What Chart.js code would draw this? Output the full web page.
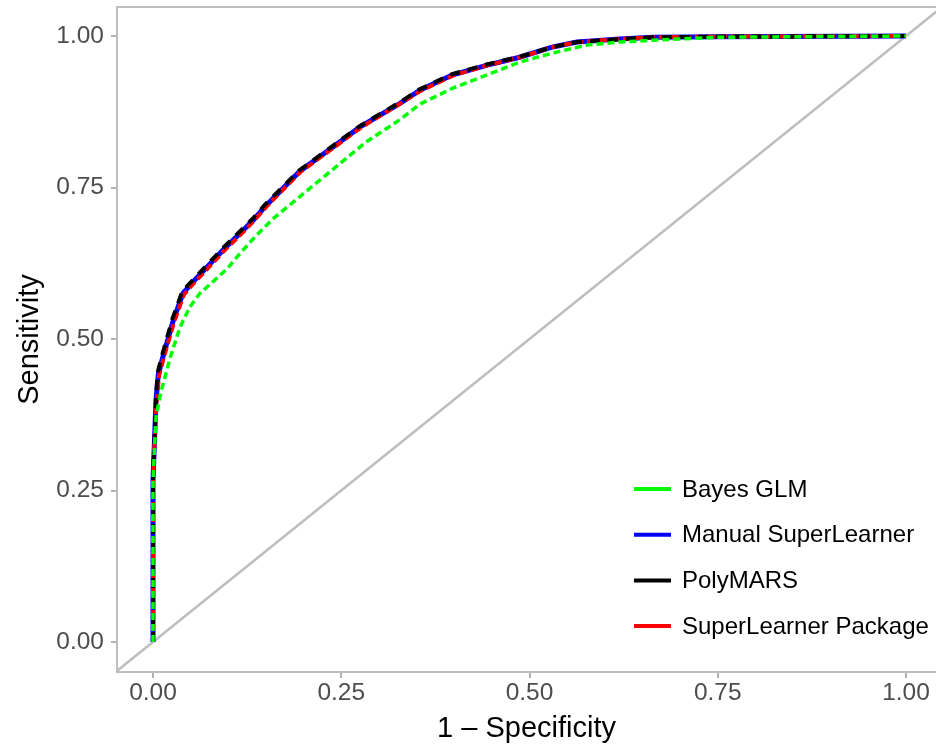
<!DOCTYPE html>
<html>
<head>
<meta charset="utf-8">
<script src="https://cdn.jsdelivr.net/npm/chart.js@4.4.1/dist/chart.umd.min.js"></script>
<style>
  html, body { margin: 0; padding: 0; background: #ffffff; }
  canvas { display: block; }
</style>
</head>
<body>
<canvas id="rocChart" width="936" height="750"></canvas>
<script>
const TICKS = [0, 0.25, 0.5, 0.75, 1];

const MANUAL_FPR = [0, 0, 0.003, 0.004, 0.007, 0.013, 0.027, 0.04, 0.053, 0.072, 0.093, 0.116, 0.133, 0.15, 0.195, 0.239, 0.275, 0.328, 0.355, 0.398, 0.444, 0.487, 0.531, 0.563, 0.62, 0.664, 0.75, 1];
const MANUAL_TPR = [0, 0.267, 0.366, 0.399, 0.441, 0.47, 0.531, 0.576, 0.594, 0.619, 0.647, 0.675, 0.696, 0.72, 0.777, 0.817, 0.85, 0.889, 0.911, 0.936, 0.952, 0.965, 0.982, 0.99, 0.995, 0.998, 0.999, 1];

const PACKAGE_FPR = [0, 0, 0.003, 0.005, 0.008, 0.014, 0.028, 0.041, 0.054, 0.073, 0.094, 0.117, 0.134, 0.151, 0.196, 0.24, 0.276, 0.329, 0.356, 0.399, 0.445, 0.488, 0.531, 0.563, 0.62, 0.664, 0.75, 1];
const PACKAGE_TPR = [0, 0.26, 0.364, 0.397, 0.439, 0.468, 0.528, 0.573, 0.592, 0.617, 0.645, 0.673, 0.695, 0.719, 0.776, 0.816, 0.849, 0.889, 0.91, 0.935, 0.952, 0.965, 0.982, 0.99, 0.995, 0.998, 0.999, 1];

const POLYMARS_FPR = [0, 0, 0.003, 0.004, 0.006, 0.012, 0.026, 0.039, 0.052, 0.071, 0.092, 0.115, 0.132, 0.149, 0.194, 0.238, 0.274, 0.327, 0.354, 0.397, 0.443, 0.487, 0.531, 0.563, 0.62, 0.664, 0.75, 1];
const POLYMARS_TPR = [0, 0.27, 0.368, 0.401, 0.444, 0.473, 0.534, 0.579, 0.596, 0.621, 0.649, 0.677, 0.698, 0.722, 0.778, 0.818, 0.851, 0.89, 0.912, 0.937, 0.953, 0.966, 0.982, 0.99, 0.995, 0.998, 0.999, 1];

const BAYES_FPR = [0, 0, 0.004, 0.01, 0.023, 0.036, 0.049, 0.062, 0.08, 0.1, 0.116, 0.138, 0.159, 0.195, 0.239, 0.284, 0.328, 0.355, 0.398, 0.444, 0.487, 0.531, 0.576, 0.62, 0.664, 0.75, 1];
const BAYES_TPR = [0, 0.267, 0.371, 0.41, 0.47, 0.52, 0.553, 0.575, 0.595, 0.618, 0.642, 0.672, 0.698, 0.735, 0.78, 0.826, 0.862, 0.888, 0.914, 0.936, 0.957, 0.972, 0.985, 0.99, 0.993, 0.998, 1];

const DIAG = [-0.1, 1.1];

const LEGEND_LABELS = ["Bayes GLM", "Manual SuperLearner", "PolyMARS", "SuperLearner Package"];

const FONT = "'Liberation Sans', Arial, Helvetica, sans-serif";
const GRAY_LINE = "#bebebe";

function toPoints(xs, ys) {
  return xs.map((x, i) => ({ x, y: ys[i] }));
}

function curve(label, xs, ys, color, dash, width, order) {
  return {
    label,
    data: toPoints(xs, ys),
    borderColor: color,
    backgroundColor: color,
    borderWidth: width,
    borderDash: dash,
    borderCapStyle: "butt",
    pointRadius: 0,
    tension: 0,
    fill: false,
    order
  };
}

// legend drawn inside the panel, keys are plain solid lines like ggplot
const legendPlugin = {
  id: "insideLegend",
  afterDraw(chart) {
    const { ctx } = chart;
    const rows = LEGEND_LABELS.map((name) => chart.data.datasets.find((d) => d.label === name));
    ctx.save();
    ctx.font = "24px " + FONT;
    ctx.textBaseline = "middle";
    ctx.textAlign = "left";
    rows.forEach((ds, i) => {
      const y = 489 + i * 45.7;
      ctx.strokeStyle = ds.borderColor;
      ctx.lineWidth = 4;
      ctx.setLineDash([]);
      ctx.beginPath();
      ctx.moveTo(634, y);
      ctx.lineTo(671, y);
      ctx.stroke();
      ctx.fillStyle = "#000000";
      ctx.fillText(ds.label, 682, y + 1);
    });
    ctx.restore();
  }
};

const topBorderPlugin = {
  id: "topBorder",
  afterDraw(chart) {
    const { ctx, chartArea } = chart;
    ctx.save();
    ctx.strokeStyle = GRAY_LINE;
    ctx.lineWidth = 2;
    ctx.beginPath();
    ctx.moveTo(chartArea.left - 1, chartArea.top);
    ctx.lineTo(chartArea.right, chartArea.top);
    ctx.stroke();
    ctx.restore();
  }
};

const axisCommon = {
  type: "linear",
  afterBuildTicks: (scale) => {
    scale.ticks = TICKS.map((value) => ({ value }));
  },
  grid: {
    display: true,
    drawOnChartArea: false,
    drawTicks: true,
    tickLength: 6,
    color: "#b3b3b3",
    lineWidth: 2
  },
  border: { display: true, color: GRAY_LINE, width: 2 }
};

new Chart(document.getElementById("rocChart").getContext("2d"), {
  type: "line",
  data: {
    datasets: [
      {
        label: "diag",
        data: toPoints(DIAG, DIAG),
        borderColor: GRAY_LINE,
        borderWidth: 2.5,
        pointRadius: 0,
        fill: false,
        order: 10
      },
      curve("Manual SuperLearner", MANUAL_FPR, MANUAL_TPR, "#0000ff", [], 5, 4),
      curve("SuperLearner Package", PACKAGE_FPR, PACKAGE_TPR, "#ff0000", [8, 4], 4, 3),
      curve("PolyMARS", POLYMARS_FPR, POLYMARS_TPR, "#000000", [10, 8], 4, 2),
      curve("Bayes GLM", BAYES_FPR, BAYES_TPR, "#00ff00", [7, 4], 3.5, 1)
    ]
  },
  options: {
    responsive: false,
    animation: false,
    layout: { padding: { top: 7, right: 0, bottom: 0, left: 0 } },
    plugins: {
      legend: { display: false },
      tooltip: { enabled: false }
    },
    scales: {
      x: {
        ...axisCommon,
        min: -0.0478,
        max: 1.0398,
        afterFit: (scale) => {
          scale.height = 78;
          scale.paddingLeft = 0;
          scale.paddingRight = 0;
        },
        ticks: {
          color: "#4d4d4d",
          font: { family: FONT, size: 24.5 },
          padding: 1,
          maxRotation: 0,
          callback: (v) => Number(v).toFixed(2)
        },
        title: {
          display: true,
          text: "1 \u2013 Specificity",
          color: "#000000",
          font: { family: FONT, size: 29 },
          padding: { top: 4, bottom: 4 }
        }
      },
      y: {
        ...axisCommon,
        min: -0.0495,
        max: 1.0479,
        afterFit: (scale) => {
          scale.width = 117;
          scale.paddingTop = 0;
          scale.paddingBottom = 0;
        },
        ticks: {
          color: "#4d4d4d",
          font: { family: FONT, size: 24.5 },
          padding: 7,
          callback: (v) => Number(v).toFixed(2)
        },
        title: {
          display: true,
          text: "Sensitivity",
          color: "#000000",
          font: { family: FONT, size: 29 },
          padding: { top: 13, bottom: 13 }
        }
      }
    }
  },
  plugins: [legendPlugin, topBorderPlugin]
});
</script>
</body>
</html>
